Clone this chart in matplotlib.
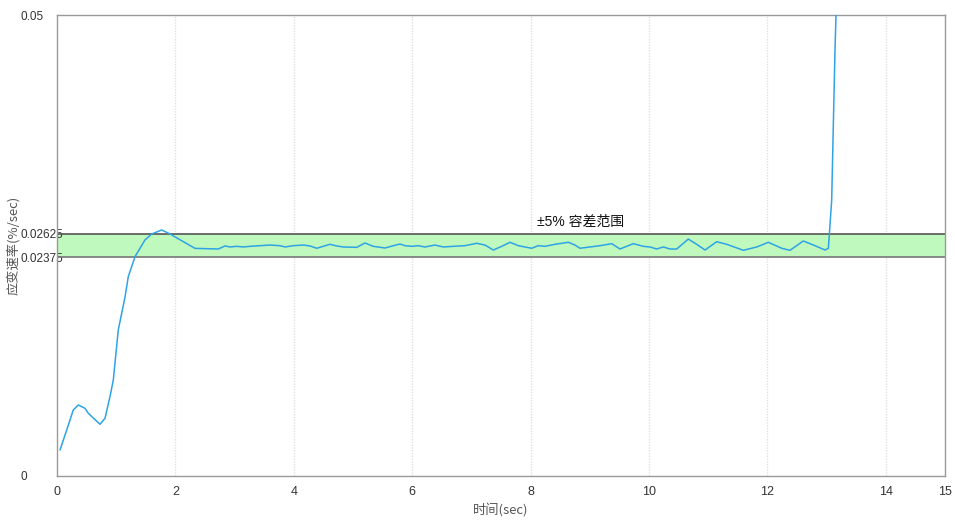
import matplotlib
matplotlib.use('Agg')
import matplotlib.pyplot as plt

plt.rcParams['font.family'] = ['Liberation Sans', 'Noto Sans CJK SC', 'DejaVu Sans']

# strain rate curve (sec, %/sec)
time_sec = [0.051, 0.164, 0.275, 0.36, 0.473, 0.529, 0.726, 0.811, 0.895, 0.951,
            1.035, 1.149, 1.204, 1.318, 1.486, 1.6, 1.769, 1.909, 2.106, 2.331,
            2.725, 2.838, 2.922, 3.035, 3.147, 3.26, 3.429, 3.598, 3.767, 3.851,
            3.992, 4.161, 4.274, 4.387, 4.498, 4.611, 4.725, 4.836, 5.063, 5.203,
            5.343, 5.541, 5.681, 5.794, 5.878, 5.992, 6.103, 6.216, 6.385, 6.525,
            6.694, 6.892, 7.09, 7.23, 7.37, 7.512, 7.652, 7.792, 8.019, 8.13,
            8.243, 8.412, 8.637, 8.75, 8.834, 9.003, 9.172, 9.37, 9.51, 9.735,
            9.904, 10.017, 10.13, 10.242, 10.355, 10.468, 10.664, 10.806, 10.946, 11.144,
            11.313, 11.593, 11.819, 11.904, 12.015, 12.242, 12.382, 12.606, 12.804, 12.973,
            13.03, 13.057, 13.086, 13.113, 13.142, 13.159, 13.2]
strain_rate = [0.00282, 0.00499, 0.00716, 0.0077, 0.00734, 0.0068, 0.00561, 0.00626, 0.0086, 0.01041,
               0.01584, 0.01941, 0.02162, 0.02379, 0.0256, 0.02625, 0.02668, 0.02625, 0.02552, 0.02469,
               0.02462, 0.02495, 0.02484, 0.02491, 0.02484, 0.02491, 0.02498, 0.02505, 0.02498, 0.02484,
               0.02498, 0.02505, 0.02495, 0.0247, 0.02491, 0.02513, 0.02495, 0.02484, 0.0248, 0.02527,
               0.02491, 0.02473, 0.02498, 0.02516, 0.02498, 0.02491, 0.02498, 0.02484, 0.02505, 0.02484,
               0.02491, 0.02498, 0.02524, 0.02505, 0.02451, 0.02491, 0.02535, 0.02498, 0.0247, 0.02498,
               0.02491, 0.02513, 0.02535, 0.02505, 0.0247, 0.02484, 0.02498, 0.0252, 0.02462, 0.0252,
               0.02491, 0.02484, 0.02462, 0.02484, 0.02462, 0.02462, 0.0257, 0.02513, 0.02451, 0.02541,
               0.02513, 0.02448, 0.02484, 0.02505, 0.02535, 0.0247, 0.02448, 0.02549, 0.02498, 0.02451,
               0.0247, 0.02722, 0.02993, 0.03789, 0.0462, 0.05, 0.056]

band_low = 0.02375
band_high = 0.02625
band_label = '±5% 容差范围'
x_ticks = [0, 2, 4, 6, 8, 10, 12, 14, 15]
y_ticks = [0, 0.02375, 0.02625, 0.05]
y_tick_labels = ['0', '0.02375', '0.02625', '0.05']

fig = plt.figure(figsize=(9.55, 5.2), dpi=100)
ax = fig.add_axes([57 / 955, 44 / 520, 888 / 955, 461 / 520])

ax.axhspan(band_low, band_high, facecolor='#c0f9bd', edgecolor='none', zorder=1)
ax.axhline(band_low, color='#777777', lw=1.2, zorder=2)
ax.axhline(band_high, color='#555555', lw=1.2, zorder=2)

for x in x_ticks[1:-1]:
    ax.axvline(x, color='#e0e0e0', lw=1, ls=(0, (1, 1)), zorder=0)

ax.plot(time_sec, strain_rate, color='#2ea3e6', lw=1.1, zorder=3,
        solid_joinstyle='round', solid_capstyle='round')

ax.text(8.85, 0.02755, band_label, ha='center', va='center', fontsize=10,
        family=['Liberation Sans', 'Noto Sans CJK SC', 'DejaVu Sans'], color='#111111')

ax.set_xlim(0, 15)
ax.set_ylim(0, 0.05)
ax.set_xticks(x_ticks)
ax.set_xticklabels([str(x) for x in x_ticks])
ax.set_yticks(y_ticks)
ax.set_yticklabels(y_tick_labels)
ax.tick_params(axis='both', length=0, labelsize=9, labelcolor='#333333')
ax.tick_params(axis='y', labelsize=8.5, pad=26.5)
ax.tick_params(axis='x', pad=7)
for lab in ax.get_yticklabels():
    lab.set_horizontalalignment('left')

for s in ax.spines.values():
    s.set_color('#999999')
    s.set_linewidth(1)

ax.set_xlabel('时间(sec)', fontsize=9.5, color='#555555', labelpad=4,
              family=['Noto Sans CJK SC', 'DejaVu Sans'])
ax.set_ylabel('应变速率(%/sec)', fontsize=9.5, color='#555555', labelpad=0,
              family=['Noto Sans CJK SC', 'DejaVu Sans'])

fig.savefig('out.png', dpi=100)
